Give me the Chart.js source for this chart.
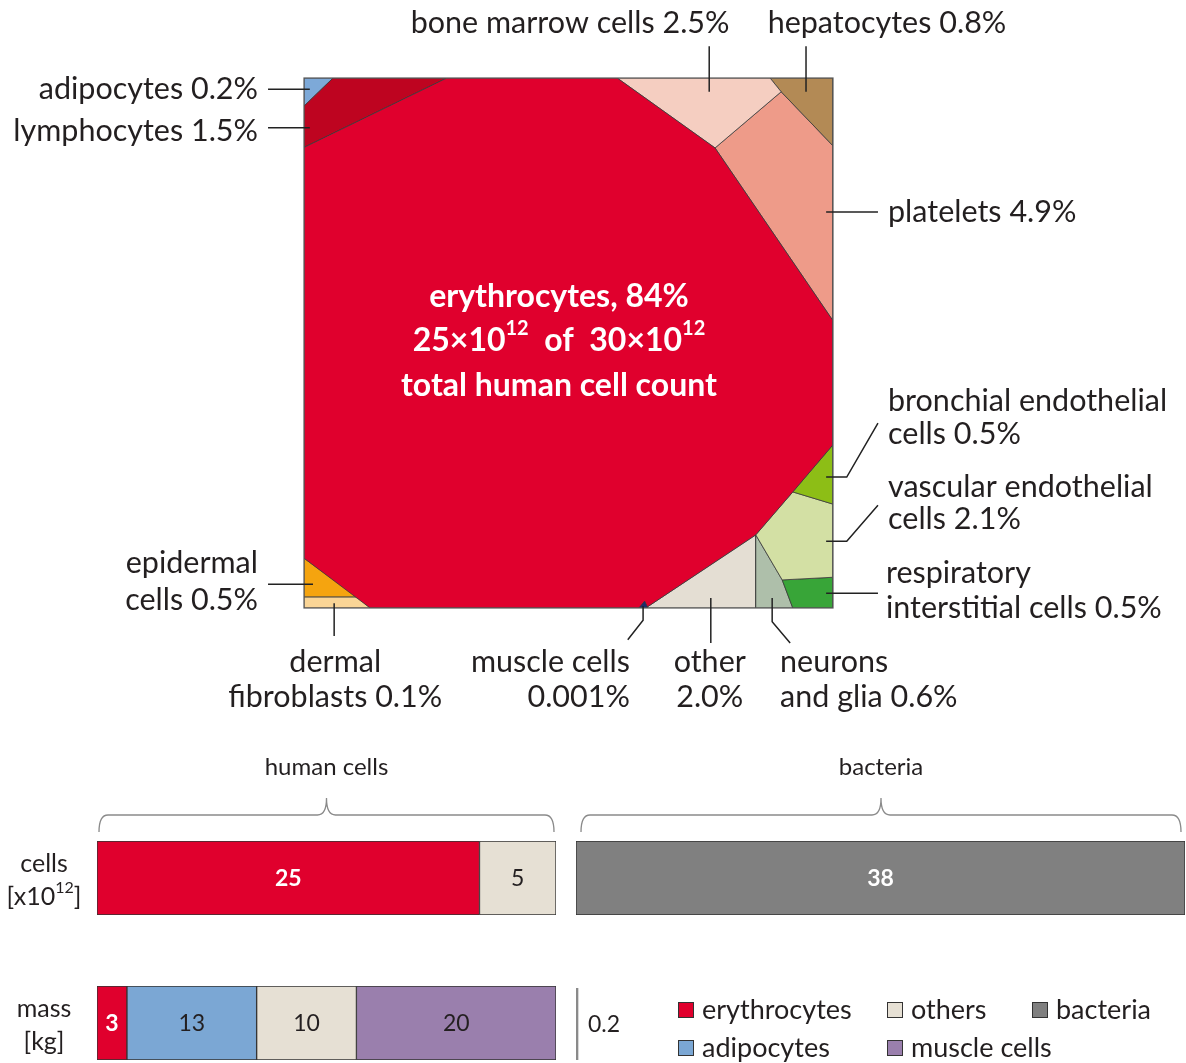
<!DOCTYPE html>
<html><head><meta charset="utf-8">
<script src="https://cdn.jsdelivr.net/npm/chart.js@4/dist/chart.umd.min.js"></script>
<style>
html,body{margin:0;padding:0;background:#fff;}
#wrap{position:relative;width:1186px;height:1063px;overflow:hidden;background:#fff;}
canvas{position:absolute;display:block;}
</style></head><body><div id="wrap">
<canvas id="tree" width="1186" height="730" style="left:0;top:0"></canvas>
<canvas id="humanCells" width="570" height="185" style="left:0;top:740px"></canvas>
<canvas id="bactCells" width="616" height="185" style="left:570px;top:740px"></canvas>
<canvas id="humanMass" width="570" height="88" style="left:0;top:975px"></canvas>
<canvas id="bactMass" width="616" height="88" style="left:570px;top:975px"></canvas>
</div>
<script>
// ---------------- DATA ----------------
const cellTypes = ['erythrocytes','lymphocytes','adipocytes','bone marrow cells','hepatocytes','platelets',
  'bronchial endothelial cells','vascular endothelial cells','respiratory interstitial cells','neurons and glia',
  'other','muscle cells','epidermal cells','dermal fibroblasts'];
const cellShares = ['84%','1.5%','0.2%','2.5%','0.8%','4.9%','0.5%','2.1%','0.5%','0.6%','2.0%','0.001%','0.5%','0.1%'];
// Voronoi treemap cells (percent of square side, y upwards)
const cellPolygons = [
  [[27.0,100],[59.2,100],[77.7,86.8],[100,54.2],[100,30.8],[92.4,21.9],[85.4,13.8],[64.6,0],[12.5,0],[0,9.4],[0,86.9]],
  [[5.5,100],[27.0,100],[0,86.9],[0,94.7]],
  [[0,100],[5.5,100],[0,94.7]],
  [[59.2,100],[88.1,100],[90.2,97.4],[77.7,86.8]],
  [[88.1,100],[100,100],[100,87.2],[90.2,97.4]],
  [[77.7,86.8],[90.2,97.4],[100,87.2],[100,54.2]],
  [[92.4,21.9],[100,30.8],[100,19.6]],
  [[85.4,13.8],[92.4,21.9],[100,19.6],[100,5.8],[90.4,5.3]],
  [[90.4,5.3],[100,5.8],[100,0],[92.4,0]],
  [[85.4,13.8],[90.4,5.3],[92.4,0],[85.4,0]],
  [[64.6,0],[85.4,13.8],[85.4,0]],
  [[63.3,0],[65.0,0],[64.4,1.3]],
  [[0,9.4],[10.0,2.1],[0,2.1]],
  [[0,2.1],[10.0,2.1],[12.5,0],[0,0]]
];
const groups = ['human cells','bacteria'];
const humanCellCounts = [25, 5];      // x10^12 : erythrocytes, others
const bacteriaCellCounts = [38];      // x10^12
const humanMassKg = [3, 13, 10, 20];  // erythrocytes, adipocytes, others, muscle cells
const bacteriaMassKg = [0.2];
const legendNames = ['erythrocytes','others','bacteria','adipocytes','muscle cells'];

// ---------------- STYLE / LAYOUT ----------------
const cellColors = ['#E0002D','#BE0420','#7DA9D8','#F5CEC1','#B38A55','#EE9B89','#8DBE16','#D3E0A4','#38A538',
  '#AEBFAA','#E4DED3','#1E2B6E','#F5A40F','#FAD596'];
const barColors = {ery:'#E0002D', oth:'#E6E0D4', bac:'#808080', adi:'#7BA7D4', mus:'#9A7FAD'};
const legendColors = [barColors.ery, barColors.oth, barColors.bac, barColors.adi, barColors.mus];
const TXT = '#231F20';
const labelFont = '30.5px Lato';
const labelLayout = [
 {i:3, at:[50.3,110.4], align:'center', leader:[[76.6,106.0],[76.6,97.4]]},
 {i:4, at:[110.2,110.4], align:'center', leader:[[94.9,106.0],[94.9,97.4]]},
 {i:2, at:[-8.7,97.9], align:'right', leader:[[-6.8,97.9],[1.1,97.9]]},
 {i:1, at:[-8.7,90.0], align:'right', leader:[[-6.8,90.6],[1.1,90.6]]},
 {i:5, at:[110.4,74.7], align:'left', leader:[[98.7,74.7],[108.5,74.7]]},
 {i:6, at:[110.4,39.1], align:'left', br:2, gap:33, leader:[[98.7,24.7],[102.6,24.7],[108.5,34.9]]},
 {i:7, at:[110.4,22.8], align:'left', br:2, gap:32, leader:[[98.7,12.6],[102.6,12.6],[108.5,19.4]]},
 {i:8, at:[110.0,6.6], align:'left', br:1, gap:35, leader:[[98.7,2.8],[108.5,2.8]]},
 {i:12, at:[-8.7,8.5], align:'right', br:1, gap:37, leader:[[-6.8,4.5],[1.7,4.5]]},
 {i:13, at:[5.9,-10.2], align:'center', br:1, gap:35, leader:[[5.7,0.9],[5.7,-5.3]]},
 {i:11, at:[61.6,-10.2], align:'right', br:2, gap:35, leader:[[64.1,0.4],[64.1,-2.3],[61.2,-6.0]]},
 {i:10, at:[76.7,-10.2], align:'center', br:1, gap:35, leader:[[76.9,1.9],[76.9,-6.6]]},
 {i:9, at:[90.0,-10.2], align:'left', br:1, gap:35, leader:[[88.5,1.9],[88.5,-2.6],[91.9,-6.6]]}
];
const centerAt = [48.2, [58.7, 50.4, 41.9]];

// draw text made of parts with optional superscripts
function drawParts(ctx, parts, x, y, align, size, weight, color){
  ctx.fillStyle = color; ctx.textBaseline = 'middle'; ctx.textAlign = 'left';
  const fam = 'Lato';
  let w = 0;
  parts.forEach(p => { ctx.font = `${weight} ${p.sup ? Math.round(size*0.62) : size}px ${fam}`; p.w = ctx.measureText(p.t).width; w += p.w; });
  let cx = align === 'center' ? x - w/2 : (align === 'right' ? x - w : x);
  parts.forEach(p => {
    ctx.font = `${weight} ${p.sup ? Math.round(size*0.62) : size}px ${fam}`;
    ctx.fillText(p.t, cx, p.sup ? y - size*0.38 : y);
    cx += p.w;
  });
}

// ---------------- TREEMAP ----------------
const treePlugin = {
  id:'treeLabels',
  afterDatasetsDraw(chart){
    const {ctx, chartArea:a, scales:{x, y}} = chart;
    ctx.save();
    ctx.strokeStyle = '#5a5a5a'; ctx.lineWidth = 1.2;
    ctx.strokeRect(a.left, a.top, a.width, a.height);
    for (const L of labelLayout) {
      ctx.strokeStyle = '#222'; ctx.lineWidth = 1.5;
      ctx.beginPath();
      L.leader.forEach((p, k) => { const px = x.getPixelForValue(p[0]), py = y.getPixelForValue(p[1]); k ? ctx.lineTo(px, py) : ctx.moveTo(px, py); });
      ctx.stroke();
      const full = cellTypes[L.i] + ' ' + cellShares[L.i];
      let lines = [full];
      if (L.br) { const w = full.split(' '); lines = [w.slice(0, L.br).join(' '), w.slice(L.br).join(' ')]; }
      ctx.font = labelFont; ctx.fillStyle = TXT; ctx.textAlign = L.align; ctx.textBaseline = 'middle';
      const px = x.getPixelForValue(L.at[0]), py = y.getPixelForValue(L.at[1]);
      lines.forEach((t, k) => ctx.fillText(t, px, py + k * (L.gap || 0)));
    }
    const cx = x.getPixelForValue(centerAt[0]);
    const ys = centerAt[1].map(v => y.getPixelForValue(v));
    const total = humanCellCounts.reduce((s, v) => s + v, 0);
    drawParts(ctx, [{t: cellTypes[0] + ', ' + cellShares[0]}], cx, ys[0], 'center', 32, 'bold', '#fff');
    drawParts(ctx, [{t: humanCellCounts[0] + '×10'}, {t:'12', sup:true}, {t:'  of  ' + total + '×10'}, {t:'12', sup:true}], cx, ys[1], 'center', 32, 'bold', '#fff');
    drawParts(ctx, [{t:'total human cell count'}], cx, ys[2], 'center', 32, 'bold', '#fff');
    ctx.restore();
  }
};

const treeDatasets = cellPolygons.map((poly, k) => ({
  label: cellTypes[k],
  data: poly.concat([poly[0]]).map(p => ({x: p[0], y: p[1]})),
  backgroundColor: cellColors[k],
  borderColor: '#3a3a3a',
  borderWidth: 0.8,
  fill: 'shape',
  tension: 0,
  pointRadius: 0,
  pointHoverRadius: 0,
  order: k === 11 ? -1 : k
}));

new Chart(document.getElementById('tree'), {
  type: 'line',
  data: {datasets: treeDatasets},
  options: {
    responsive: false, animation: false, events: [],
    layout: {padding: {left: 304, right: 1186 - 833, top: 78, bottom: 730 - 608}},
    plugins: {legend: {display: false}, tooltip: {enabled: false}},
    scales: {
      x: {type: 'linear', min: 0, max: 100, display: false},
      y: {type: 'linear', min: 0, max: 100, display: false}
    }
  },
  plugins: [treePlugin]
});

// ---------------- BARS ----------------
function brace(ctx, x0, x1, yl){
  const mid = (x0 + x1) / 2, r = 9;
  ctx.save(); ctx.strokeStyle = '#8a8a8a'; ctx.lineWidth = 1.3;
  ctx.beginPath();
  ctx.moveTo(x0, yl + 17);
  ctx.quadraticCurveTo(x0, yl, x0 + r, yl);
  ctx.lineTo(mid - r, yl);
  ctx.quadraticCurveTo(mid, yl, mid, yl - 17);
  ctx.quadraticCurveTo(mid, yl, mid + r, yl);
  ctx.lineTo(x1 - r, yl);
  ctx.quadraticCurveTo(x1, yl, x1, yl + 17);
  ctx.stroke(); ctx.restore();
}

function barLabels(styles){
  return {
    id:'barLabels',
    afterDatasetsDraw(chart){
      const {ctx} = chart;
      ctx.save();
      chart.data.datasets.forEach((ds, k) => {
        const st = styles[k]; if (!st) return;
        const el = chart.getDatasetMeta(k).data[0];
        const cx = (el.x + el.base) / 2;
        ctx.font = `${st.bold ? 'bold ' : ''}23px Lato`;
        ctx.fillStyle = st.color; ctx.textAlign = 'center'; ctx.textBaseline = 'middle';
        ctx.fillText(String(ds.data[0]), cx, el.y + 1);
      });
      ctx.restore();
    }
  };
}

function sideLabel(lines){
  return {
    id:'sideLabel',
    afterDraw(chart){
      const {ctx, chartArea:a} = chart;
      ctx.save();
      lines.forEach((parts, k) => drawParts(ctx, parts, a.left - 53, a.top + 23 + k*33, 'center', 25, 'normal', TXT));
      ctx.restore();
    }
  };
}

function groupHeader(name, inset0, inset1){
  return {
    id:'groupHeader',
    afterDraw(chart){
      const {ctx, chartArea:a} = chart;
      brace(ctx, a.left + inset0, a.right - inset1, a.top - 26);
      ctx.save(); ctx.font = '24px Lato'; ctx.fillStyle = TXT; ctx.textAlign = 'center'; ctx.textBaseline = 'middle';
      ctx.fillText(name, (a.left + inset0 + a.right - inset1) / 2, a.top - 74);
      ctx.restore();
    }
  };
}

function ds(v, color, bw){ return {data:[v], backgroundColor: color, borderColor: '#333', borderWidth: bw === undefined ? 1 : bw, borderSkipped: false, barPercentage: 1, categoryPercentage: 1}; }

function barChart(id, datasets, max, pad, plugins){
  return new Chart(document.getElementById(id), {
    type:'bar',
    data:{labels:[''], datasets},
    options:{indexAxis:'y', responsive:false, animation:false, events:[],
      layout:{padding:pad},
      plugins:{legend:{display:false}, tooltip:{enabled:false}},
      scales:{x:{stacked:true, display:false, min:0, max}, y:{stacked:true, display:false}}},
    plugins
  });
}

const humanCellsTotal = humanCellCounts.reduce((s, v) => s + v, 0);
barChart('humanCells',
  [ds(humanCellCounts[0], barColors.ery), ds(humanCellCounts[1], barColors.oth)],
  humanCellsTotal, {left:97, right:570-556, top:101, bottom:10},
  [barLabels([{bold:true, color:'#fff'}, {bold:false, color:TXT}]),
   sideLabel([[{t:'cells'}], [{t:'[x10'}, {t:'12', sup:true}, {t:']'}]]),
   groupHeader(groups[0], 2, 2)]);

barChart('bactCells',
  [ds(bacteriaCellCounts[0], barColors.bac)],
  bacteriaCellCounts[0], {left:6, right:1, top:101, bottom:10},
  [barLabels([{bold:true, color:'#fff'}]), groupHeader(groups[1], 5, 4)]);

const humanMassTotal = humanMassKg.reduce((s, v) => s + v, 0);
barChart('humanMass',
  [ds(humanMassKg[0], barColors.ery), ds(humanMassKg[1], barColors.adi), ds(humanMassKg[2], barColors.oth), ds(humanMassKg[3], barColors.mus)],
  humanMassTotal, {left:97, right:570-556, top:11, bottom:3},
  [barLabels([{bold:true, color:'#fff'}, {color:TXT}, {color:TXT}, {color:TXT}]),
   sideLabel([[{t:'mass'}], [{t:'[kg]'}]])]);

const legendPlugin = {
  id:'massLegend',
  afterDraw(chart){
    const {ctx} = chart;
    const el = chart.getDatasetMeta(0).data[0];
    ctx.save();
    ctx.font = '23px Lato'; ctx.fillStyle = TXT; ctx.textAlign = 'left'; ctx.textBaseline = 'middle';
    ctx.fillText(String(bacteriaMassKg[0]), el.x + 10, el.y + 1);
    const cols = [108, 317, 462], rows = [35, 73];
    legendNames.forEach((n, k) => {
      const c = k < 3 ? k : k - 3, r = k < 3 ? 0 : 1;
      const x0 = cols[c], y0 = rows[r];
      ctx.fillStyle = legendColors[k]; ctx.fillRect(x0, y0 - 8, 16, 16);
      ctx.strokeStyle = '#333'; ctx.lineWidth = 1; ctx.strokeRect(x0 + 0.5, y0 - 7.5, 15, 15);
      ctx.fillStyle = TXT; ctx.font = '27px Lato';
      ctx.fillText(n, x0 + 24, y0);
    });
    ctx.restore();
  }
};
barChart('bactMass',
  [ds(bacteriaMassKg[0], '#8a8a8a', 0)],
  60, {left:6, right:616-6-600, top:13, bottom:3},
  [legendPlugin]);
</script></body></html>
